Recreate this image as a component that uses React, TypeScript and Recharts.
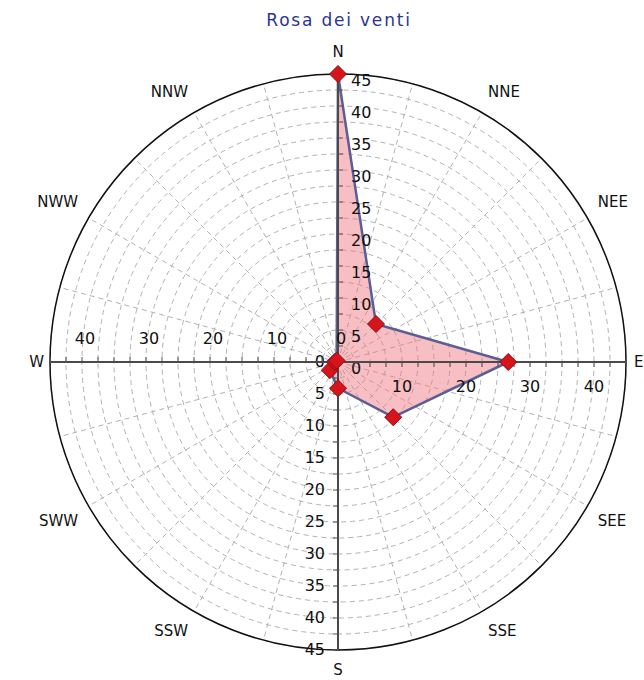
import React from 'react';
import { RadarChart, Radar, PolarGrid, PolarAngleAxis, PolarRadiusAxis } from 'recharts';

// Wind directions sampled (every 45°) and their frequencies
const windDirections = ['N', 'NE', 'E', 'SE', 'S', 'SW', 'W', 'NW'];
const windValues = [45, 8.4, 26.6, 12.2, 4.1, 1.8, 0.5, 0.3];
// Compass labels shown around the rose (every 30°)
const compassLabels = ['N', 'NNE', 'NEE', 'E', 'SEE', 'SSE', 'S', 'SSW', 'SWW', 'W', 'NWW', 'NNW'];
// Tick labels of the radial scales
const verticalAxisLabels = [0, 5, 10, 15, 20, 25, 30, 35, 40, 45];
const horizontalAxisLabels = [0, 10, 20, 30, 40];
const radialTicks = [0, 2.5, 5, 7.5, 10, 12.5, 15, 17.5, 20, 22.5, 25, 27.5, 30, 32.5, 35, 37.5, 40, 42.5, 45];
const radialDomain: [number, number] = [0, 45];
const title = 'Rosa dei venti';

const STEP = 15;
const chartData = Array.from({ length: 360 / STEP }, (_, i) => {
  const deg = i * STEP;
  const di = deg % 45 === 0 ? deg / 45 : -1;
  const li = deg % 30 === 0 ? deg / 30 : -1;
  return {
    angle: String(deg),
    label: li >= 0 ? compassLabels[li] : '',
    direction: di >= 0 ? windDirections[di] : '',
    value: di >= 0 ? windValues[di] : null,
  };
});

const FONT = '"DejaVu Sans", Verdana, sans-serif';
const AXIS_COLOR = '#4a4a4a';

const AngleTick = (props: any) => {
  const { x, y, payload } = props;
  const row = chartData.find((d) => d.angle === String(payload.value));
  if (!row || !row.label) return <g />;
  const cx = typeof props.cx === 'number' ? props.cx : 338;
  const cy = typeof props.cy === 'number' ? props.cy : 362;
  const dx = x - cx;
  const dy = y - cy;
  let anchor: 'start' | 'middle' | 'end' = 'middle';
  if (dx > 5) anchor = 'start';
  if (dx < -5) anchor = 'end';
  let tx = x;
  let ty = y;
  let baseline: 'auto' | 'central' = 'auto';
  if (dy < -5) ty = y - 5;
  else if (dy > 5) ty = Math.min(y + 14, 675);
  else baseline = 'central';
  if (Math.abs(dy) <= 5) tx = dx > 0 ? Math.min(x - 4, 634) : x + 6;
  return (
    <text x={tx} y={ty} textAnchor={anchor} dominantBaseline={baseline} fontFamily={FONT} fontSize={15} fill="#111">
      {row.label}
    </text>
  );
};

// The radius axis sits on the north spoke; each tick is mirrored onto the
// east, south and west spokes (same distance from the centre).
const RadiusTick = (props: any) => {
  const { x, y, payload } = props;
  const cx = typeof props.cx === 'number' ? props.cx : x;
  const cy = typeof props.cy === 'number' ? props.cy : 362;
  const v = Number(payload.value);
  const r = cy - y;
  const txt = (tx: number, ty: number, anchor: 'start' | 'middle' | 'end') => (
    <text x={tx} y={ty} textAnchor={anchor} dominantBaseline="central" fontFamily={FONT} fontSize={16} fill="#111">
      {v}
    </text>
  );
  const isMax = v === radialDomain[1];
  return (
    <g>
      {isMax && (
        <g>
          <line x1={cx - r} x2={cx + r} y1={cy} y2={cy} stroke={AXIS_COLOR} strokeWidth={2} />
          <line x1={cx} x2={cx} y1={cy} y2={cy + r} stroke={AXIS_COLOR} strokeWidth={2} />
        </g>
      )}
      {/* north (labels on the right) */}
      <line x1={cx} x2={cx + 5} y1={cy - r} y2={cy - r} stroke="#555" />
      {verticalAxisLabels.includes(v) && txt(cx + 13, cy - r + 6, 'start')}
      {/* south (labels on the left) */}
      <line x1={cx - 5} x2={cx} y1={cy + r} y2={cy + r} stroke="#555" />
      {verticalAxisLabels.includes(v) && txt(cx - 13, cy + r - 1, 'end')}
      {/* east (labels below) */}
      <line x1={cx + r} x2={cx + r} y1={cy} y2={cy + 5} stroke="#555" />
      {horizontalAxisLabels.includes(v) && v !== 0 && txt(cx + r, cy + 24, 'middle')}
      {/* west (labels above) */}
      <line x1={cx - r} x2={cx - r} y1={cy - 5} y2={cy} stroke="#555" />
      {horizontalAxisLabels.includes(v) && txt(cx - r + 3, cy - 24, 'middle')}
    </g>
  );
};

const RoseShape = (props: any) => {
  const pts = (props.points || []).filter(
    (p: any) => p && p.payload && p.payload.value != null && Number.isFinite(p.x) && Number.isFinite(p.y)
  );
  if (!pts.length) return <g />;
  return (
    <polygon
      points={pts.map((p: any) => `${p.x},${p.y}`).join(' ')}
      fill="#ee6f7a"
      fillOpacity={0.45}
      stroke="#5a5f95"
      strokeWidth={2.5}
      strokeLinejoin="round"
    />
  );
};

const DiamondDot = (props: any) => {
  const { cx, cy, payload } = props;
  const val = payload && 'value' in payload ? payload.value : props.value;
  if (val == null || !Number.isFinite(cx) || !Number.isFinite(cy)) return <g />;
  const r = 8.5;
  return (
    <polygon
      points={`${cx},${cy - r} ${cx + r},${cy} ${cx},${cy + r} ${cx - r},${cy}`}
      fill="#d5141c"
      stroke="#8a0a10"
      strokeWidth={1}
    />
  );
};

export default function App() {
  return (
    <div style={{ position: 'absolute', left: 0, top: 0, width: 644, height: 680, background: '#fff', overflow: 'hidden' }}>
      <div
        style={{
          position: 'absolute',
          left: 339,
          top: 10,
          transform: 'translateX(-50%)',
          whiteSpace: 'nowrap',
          fontFamily: FONT,
          fontSize: 17,
          letterSpacing: 1.8,
          lineHeight: '20px',
          color: '#2b3494',
        }}
      >
        {title}
      </div>
      <RadarChart
        width={644}
        height={680}
        data={chartData}
        cx={338}
        cy={362}
        outerRadius={288}
        margin={{ top: 0, right: 0, bottom: 0, left: 0 }}
      >
        <PolarGrid gridType="circle" stroke="#b2b2b2" strokeDasharray="5 4" />
        <PolarAngleAxis
          dataKey="angle"
          axisLineType="circle"
          axisLine={{ stroke: '#111', strokeWidth: 1.5 }}
          tickLine={false}
          tickSize={12}
          tick={AngleTick}
        />
        <PolarRadiusAxis
          angle={90}
          domain={radialDomain}
          ticks={radialTicks as any}
          tickCount={19}
          axisLine={{ stroke: AXIS_COLOR, strokeWidth: 2 }}
          tick={RadiusTick}
        />
        <Radar
          dataKey="value"
          shape={RoseShape}
          stroke="#5a5f95"
          fill="#ee6f7a"
          dot={DiamondDot}
          isAnimationActive={false}
        />
      </RadarChart>
    </div>
  );
}
